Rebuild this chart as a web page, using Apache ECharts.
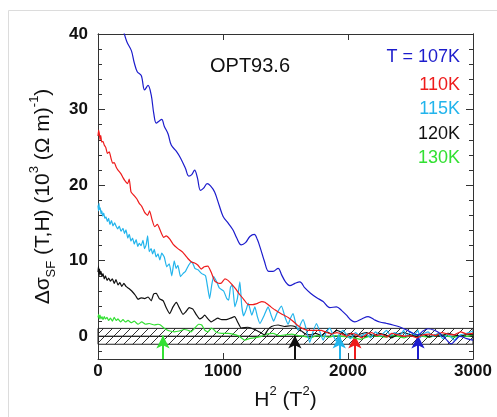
<!DOCTYPE html>
<html><head><meta charset="utf-8">
<script src="https://cdn.jsdelivr.net/npm/echarts@6/dist/echarts.min.js"></script>
<style>html,body{margin:0;padding:0;background:#fff}#c{width:497px;height:417px}</style>
</head><body><div id="c"></div>
<script>
// ---- data ----
const xTicks = [0, 1000, 2000, 3000];
const yTicksMajor = [0, 10, 20, 30, 40];
const yTicksMinor = [-2, 0, 2, 4, 6, 8, 10, 12, 14, 16, 18, 20, 22, 24, 26, 28, 30, 32, 34, 36, 38, 40];
const seriesNames = ['T = 107K', '110K', '115K', '120K', '130K'];
const seriesColors = ['#1c1ccc', '#ee1c1c', '#22b4ec', '#111111', '#33e033'];
const arrowH2 = [2560, 2055, 1930, 1575, 520];
const bandRows = [[-1.05, 0], [0, 1.05]];

const s107 = [[195,41],[230,39],[267,37.8],[290,36.2],[314,35.0],[346,34.5],[373,32.6],[400,33.2],[426,31.9],[446,29.5],[466,28.2],[490,28.5],[510,28.7],[530,27.8],[560,26.8],[586,25.3],[626,24.5],[660,23.6],[700,22.2],[726,21.2],[750,21.4],[773,22.0],[795,21.0],[820,19.3],[845,19.6],[873,20.2],[900,19.9],[933,19.1],[970,17.3],[1000,15.9],[1040,15.0],[1079,14.1],[1110,13.0],[1146,12.1],[1180,12.4],[1215,13.2],[1250,13.5],[1275,12.8],[1300,11.6],[1330,10.0],[1365,8.6],[1400,8.6],[1441,9.0],[1470,8.1],[1500,7.2],[1535,6.7],[1575,7.0],[1615,7.2],[1655,6.4],[1700,5.7],[1750,5.1],[1801,4.6],[1854,3.8],[1908,3.9],[1950,3.4],[1988,2.8],[2020,2.2],[2054,1.9],[2110,2.3],[2161,2.6],[2210,2.2],[2254,1.9],[2310,1.7],[2360,1.5],[2420,1.2],[2467,0.85],[2520,0.4],[2560,0.2],[2600,0.7],[2640,1.0],[2690,0.8],[2734,0.4],[2780,-0.3],[2827,-1.0],[2860,-0.5],[2894,0.0],[2950,-0.3],[3000,-0.5]];

const s110 = [[0,26.5],[5,27.3],[10,26.9],[16,26.0],[22,26.6],[30,25.7],[40,25.8],[50,25.3],[62,25.0],[75,24.2],[90,24.4],[105,23.5],[117,22.9],[130,23.0],[145,22.4],[160,22.0],[184,21.5],[200,21.0],[215,20.6],[237,20.2],[250,20.8],[264,19.1],[285,18.7],[310,18.2],[330,17.6],[350,17.2],[373,16.4],[397,16.0],[413,16.6],[433,15.4],[453,14.5],[475,14.8],[503,13.8],[525,13.1],[545,13.3],[573,12.9],[600,12.2],[639,11.6],[679,11.1],[719,10.3],[750,9.8],[773,9.7],[800,9.4],[826,8.9],[850,9.2],[879,9.3],[905,8.5],[935,7.3],[970,7.0],[990,7.1],[1015,7.6],[1040,7.4],[1069,6.9],[1100,6.3],[1135,5.5],[1170,4.8],[1201,4.2],[1240,4.2],[1281,4.4],[1310,4.6],[1335,4.5],[1375,4.0],[1415,3.5],[1465,3.0],[1521,2.5],[1560,2.0],[1601,1.4],[1640,1.0],[1681,0.8],[1730,0.8],[1788,0.8],[1830,0.5],[1870,0.3],[1910,0.5],[1950,0.3],[1990,0.0],[2030,0.4],[2070,0.2],[2110,-0.2],[2150,0.3],[2190,0.5],[2230,0.1],[2270,0.3],[2310,-0.1],[2350,0.4],[2400,0.2],[2450,0.0],[2500,0.1],[2550,-0.2],[2600,0.2],[2650,0.3],[2700,0.1],[2750,0.5],[2800,0.3],[2850,0.2],[2900,0.6],[2950,0.3],[3000,0.4]];

const s115 = [[0,17.3],[4,16.6],[8,17.6],[12,16.8],[18,17.0],[24,16.2],[30,16.6],[38,15.9],[46,16.3],[55,15.6],[64,15.8],[75,15.2],[85,15.6],[95,14.8],[108,15.3],[120,14.6],[133,15.0],[144,14.6],[158,14.2],[170,14.6],[184,13.9],[200,14.3],[212,13.6],[224,14.1],[238,13.0],[250,13.5],[264,12.6],[277,13.0],[290,12.2],[305,12.8],[318,11.9],[330,12.3],[345,12.0],[360,12.7],[372,11.6],[385,12.1],[397,13.3],[410,11.2],[425,11.6],[437,10.9],[450,11.5],[465,10.5],[480,10.9],[495,10.1],[510,11.0],[530,10.5],[550,9.2],[570,9.6],[590,8.0],[610,10.0],[625,9.0],[639,9.4],[660,7.9],[680,8.3],[700,8.6],[725,9.4],[750,9.9],[775,9.0],[800,8.8],[830,8.3],[860,8.0],[877,6.5],[893,5.0],[910,6.8],[925,7.9],[950,7.2],[970,6.4],[1005,6.0],[1030,5.0],[1045,4.8],[1060,6.5],[1075,6.8],[1095,3.9],[1115,5.0],[1135,7.2],[1150,4.0],[1165,2.7],[1185,3.5],[1202,4.4],[1230,2.8],[1255,3.9],[1275,2.6],[1295,1.7],[1330,2.8],[1361,3.9],[1385,2.8],[1405,2.0],[1430,3.0],[1468,4.0],[1495,2.6],[1521,1.6],[1540,2.4],[1561,3.0],[1580,1.8],[1601,0.8],[1620,1.6],[1641,2.2],[1665,1.0],[1694,-0.8],[1720,0.6],[1748,1.7],[1775,0.6],[1801,-0.5],[1828,0.6],[1854,1.1],[1880,0.2],[1905,-0.6],[1930,0.3],[1960,0.8],[1990,0.2],[2020,-0.3],[2060,0.5],[2100,0.0],[2140,0.4],[2180,-0.2],[2220,0.6],[2260,0.1],[2308,0.8],[2340,0.1],[2370,0.5],[2420,0.2],[2445,0.8],[2470,0.0],[2500,0.6],[2530,0.2],[2560,0.8],[2575,-0.2],[2600,0.3],[2640,0.6],[2680,0.0],[2720,0.4],[2760,-0.3],[2800,0.3],[2850,-0.5],[2900,0.2],[2950,0.4],[3000,0.7]];

const s120 = [[0,8.5],[4,9.3],[8,8.0],[12,8.9],[18,8.2],[24,8.6],[32,7.9],[40,8.3],[50,7.6],[60,8.0],[72,7.4],[85,7.7],[100,7.3],[115,7.6],[130,7.0],[144,7.5],[160,6.8],[175,7.1],[190,6.6],[207,7.0],[224,6.6],[250,6.3],[270,6.0],[300,5.4],[320,4.9],[345,5.1],[373,5.0],[400,5.2],[426,4.7],[445,5.6],[466,5.7],[490,5.0],[522,4.7],[545,3.8],[573,3.0],[600,3.9],[627,4.5],[650,3.8],[680,2.9],[700,3.2],[730,3.8],[759,3.6],[785,2.9],[813,2.3],[835,2.5],[853,2.8],[880,2.3],[906,1.9],[935,2.2],[959,2.4],[990,2.2],[1026,2.2],[1060,2.4],[1093,2.6],[1120,1.8],[1146,1.1],[1200,1.2],[1252,0.9],[1300,0.5],[1332,0.2],[1360,0.9],[1388,1.3],[1441,1.5],[1492,1.3],[1540,1.4],[1575,1.3],[1600,0.9],[1628,0.7],[1660,0.3],[1700,0.2],[1740,0.4],[1790,0.1],[1830,0.6],[1870,0.3],[1910,0.8],[1940,0.6],[1980,0.2],[2020,0.4],[2060,-0.1],[2100,0.3],[2150,0.5],[2200,0.1],[2250,0.4],[2300,0.2],[2350,-0.2],[2400,0.3],[2450,0.5],[2500,0.2],[2550,0.0],[2600,0.3],[2650,-0.1],[2700,0.2],[2750,0.1],[2800,0.4],[2850,0.2],[2900,0.0],[2950,0.3],[3000,0.2]];

const s130 = [[0,2.5],[5,2.9],[10,2.3],[16,2.8],[24,2.3],[32,2.6],[40,2.2],[50,2.6],[60,2.3],[72,2.5],[85,2.1],[100,2.4],[115,2.0],[130,2.5],[145,2.1],[160,2.3],[180,1.9],[200,2.2],[220,1.9],[240,2.1],[265,1.8],[290,2.0],[320,1.6],[350,1.9],[380,1.6],[410,1.7],[450,1.5],[480,1.6],[500,1.5],[520,1.2],[545,0.9],[575,0.7],[610,0.6],[650,0.7],[690,0.9],[720,0.8],[745,0.6],[775,1.1],[805,1.6],[830,1.5],[855,0.8],[880,0.6],[905,1.1],[925,0.9],[950,0.5],[990,0.4],[1040,0.4],[1080,0.3],[1130,0.0],[1175,-0.5],[1210,-0.3],[1250,-0.2],[1308,0.0],[1350,0.3],[1400,0.4],[1450,0.1],[1500,0.2],[1550,0.3],[1600,0.1],[1650,0.0],[1700,-0.2],[1750,0.1],[1800,0.0],[1850,-0.1],[1900,0.1],[1950,0.0],[2000,-0.1],[2050,-0.2],[2100,-0.4],[2150,-0.1],[2200,0.1],[2250,0.0],[2300,-0.1],[2350,0.1],[2400,0.0],[2450,-0.2],[2500,0.1],[2550,0.2],[2600,0.0],[2650,-0.1],[2700,0.1],[2750,0.2],[2800,0.0],[2850,-0.1],[2900,0.1],[2950,0.0],[3000,0.2]];

const allSeries = [s107, s110, s115, s120, s130];

// ---- chart ----
const FONT = '"Liberation Sans", Arial, sans-serif';
function hatchCanvas() {
  const n = 9;
  const c = document.createElement('canvas'); c.width = n; c.height = n;
  const g = c.getContext('2d');
  g.strokeStyle = '#333'; g.lineWidth = 1;
  g.beginPath();
  g.moveTo(0, n); g.lineTo(n, 0);
  g.moveTo(-2, 2); g.lineTo(2, -2);
  g.moveTo(n - 2, n + 2); g.lineTo(n + 2, n - 2);
  g.stroke();
  return c;
}
const hatch = hatchCanvas();

const chart = echarts.init(document.getElementById('c'), null, {renderer: 'canvas'});
const X_MIN = 0, X_MAX = 3000, Y_MIN = -3, Y_MAX = 40;
const axisLineStyle = {color: '#333', width: 1};
const plainNum = v => String(v);

function yAx(pos, values, len, showLabel, extra) {
  return Object.assign({
    type: 'value', position: pos, min: Y_MIN, max: Y_MAX,
    axisLine: {show: true, onZero: false, lineStyle: axisLineStyle},
    axisTick: {show: true, inside: true, length: len, customValues: values, lineStyle: axisLineStyle},
    axisLabel: {show: showLabel, customValues: yTicksMajor, formatter: plainNum, margin: 10, color: '#111', fontFamily: FONT, fontWeight: 'bold', fontSize: 17},
    splitLine: {show: false}
  }, extra || {});
}

const lineSeries = allSeries.map((d, i) => ({
  type: 'line', name: seriesNames[i], data: d, showSymbol: false, symbol: 'none',
  smooth: i === 0 ? 0.35 : 0.15,
  lineStyle: {color: seriesColors[i], width: 1.2}, z: 5,
  markLine: {
    silent: true, symbol: ['none', 'arrow'], symbolSize: [10, 13], animation: false,
    label: {show: false},
    lineStyle: {color: seriesColors[i], width: 2, type: 'solid'},
    data: [[{coord: [arrowH2[i], Y_MIN]}, {coord: [arrowH2[i], 0.1]}]]
  }
})).reverse();

chart.setOption({
  animation: false,
  backgroundColor: '#fff',
  grid: {left: 98, right: 24, top: 34, bottom: 58},
  xAxis: [
    {type: 'value', position: 'bottom', min: X_MIN, max: X_MAX, interval: 1000,
     axisLine: {show: true, onZero: false, lineStyle: axisLineStyle},
     axisTick: {show: true, inside: true, length: 6, lineStyle: axisLineStyle},
     axisLabel: {margin: 4, color: '#111', fontFamily: FONT, fontWeight: 'bold', fontSize: 17, customValues: xTicks, formatter: plainNum},
     splitLine: {show: false},
     name: '{a|H}{p|2}{a| (T}{p|2}{a|)}', nameLocation: 'middle', nameGap: 20,
     nameTextStyle: {rich: {
       a: {fontFamily: FONT, fontSize: 21, color: '#111', lineHeight: 26, verticalAlign: 'bottom'},
       p: {fontFamily: FONT, fontSize: 13, color: '#111', lineHeight: 26, verticalAlign: 'top'}
     }}},
    {type: 'value', position: 'top', min: X_MIN, max: X_MAX, interval: 1000,
     axisLine: {show: true, onZero: false, lineStyle: axisLineStyle},
     axisTick: {show: true, inside: true, length: 6, lineStyle: axisLineStyle},
     axisLabel: {show: false}, splitLine: {show: false}}
  ],
  yAxis: [
    yAx('left', yTicksMajor, 7, true, {
      name: '{a|Δσ}{s|SF}{a| (T,H) (10}{p|3}{a| (Ω m)}{p|-1}{a|)}',
      nameLocation: 'middle', nameRotate: 90, nameGap: 38,
      nameTextStyle: {rich: {
        a: {fontFamily: FONT, fontSize: 21, color: '#111', lineHeight: 30, verticalAlign: 'middle'},
        s: {fontFamily: FONT, fontSize: 13, color: '#111', lineHeight: 30, verticalAlign: 'bottom'},
        p: {fontFamily: FONT, fontSize: 13, color: '#111', lineHeight: 30, verticalAlign: 'top'}
      }}
    }),
    yAx('left', yTicksMinor, 4, false),
    yAx('right', yTicksMajor, 7, false),
    yAx('right', yTicksMinor, 4, false)
  ],
  series: [
    {
      type: 'custom', data: bandRows, z: 1, silent: true,
      renderItem: (params, api) => {
        const lo = api.value(0), hi = api.value(1);
        const p0 = api.coord([X_MIN, hi]);
        const p1 = api.coord([X_MAX, lo]);
        return {type: 'rect',
          shape: {x: p0[0], y: p0[1], width: p1[0] - p0[0], height: p1[1] - p0[1]},
          style: {fill: {image: hatch, repeat: 'repeat'}, stroke: '#222', lineWidth: 1}};
      }
    }
  ].concat(lineSeries),
  graphic: [
    {type: 'line', shape: {x1: 8.5, y1: 10.5, x2: 497, y2: 10.5}, style: {stroke: '#dcdcdc', lineWidth: 1}, silent: true},
    {type: 'line', shape: {x1: 8.5, y1: 10.5, x2: 8.5, y2: 417}, style: {stroke: '#dcdcdc', lineWidth: 1}, silent: true},
    {type: 'text', x: 210, y: 66, silent: true,
     style: {text: 'OPT93.6', font: '20px ' + FONT, fill: '#111', textAlign: 'left', textVerticalAlign: 'middle'}},
  ].concat(seriesNames.map((t, i) => ({
    type: 'text', x: 460, y: [57, 85, 109, 134, 158][i], silent: true,
    style: {text: t, font: '18px ' + FONT, fill: seriesColors[i], textAlign: 'right', textVerticalAlign: 'middle'}
  })))
});
</script>
</body></html>
